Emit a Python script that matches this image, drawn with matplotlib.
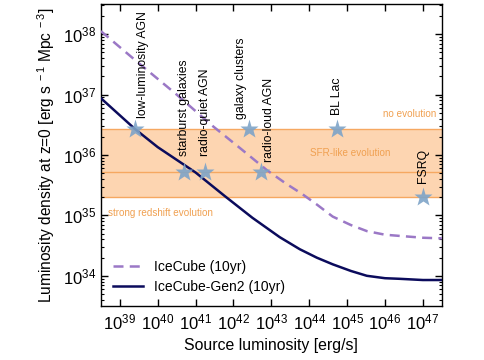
"""Luminosity density vs source luminosity."""

import matplotlib
matplotlib.use("Agg")
import matplotlib.pyplot as plt
import numpy as np

plt.rcParams["font.family"] = ["Liberation Sans", "DejaVu Sans"]
plt.rcParams["mathtext.fontset"] = "custom"
plt.rcParams["mathtext.rm"] = "Liberation Sans"
plt.rcParams["mathtext.it"] = "Liberation Sans:italic"

# curves (log10 values)
icecube_logL = [38.5, 39.5, 40.5, 41.43, 42.2, 42.88, 43.4, 43.8, 44.2, 44.62,
                45.1, 45.52, 46.0, 46.39, 47.0, 47.5]
icecube_logn = [38.05, 37.52, 37.0, 36.49, 36.10, 35.75, 35.52, 35.36, 35.18, 34.98,
                34.84, 34.74, 34.68, 34.66, 34.63, 34.62]
gen2_logL = [38.5, 39.4, 40.0, 41.0, 41.77, 42.5, 43.22, 43.75, 44.2, 44.62,
             45.1, 45.52, 46.0, 46.39, 47.0, 47.5]
gen2_logn = [36.94, 36.43, 36.13, 35.71, 35.32, 34.96, 34.64, 34.44, 34.30, 34.19,
             34.08, 34.00, 33.96, 33.95, 33.93, 33.93]

# evolution band
band_low = 2.0e35
band_mid = 5.3e35
band_high = 2.7e36

# source classes
sources = ["low-luminosity AGN", "starburst galaxies", "radio-quiet AGN",
           "galaxy clusters", "radio-loud AGN", "BL Lac", "FSRQ"]
source_logL = [39.4, 40.7, 41.24, 42.42, 42.72, 44.74, 47.0]
source_density = [band_high, band_mid, band_mid, band_high, band_mid, band_high, band_low]
label_offsets = [(6, 8), (0, 11), (0, 11), (-6, 7), (6, 7), (0, 10), (0, 10)]

fig = plt.figure(figsize=(4.85, 3.6), dpi=100)
ax = fig.add_axes([0.208, 0.15, 0.703, 0.839])

band_color = "#fdd5b1"
band_line = "#f6a861"
band_text = "#f0a050"
ax.axhspan(band_low, band_high, color=band_color, lw=0, zorder=0)
for v in (band_low, band_mid, band_high):
    ax.axhline(v, color=band_line, lw=1.0, zorder=1)

xs1 = 10 ** np.array(icecube_logL)
ys1 = 10 ** np.array(icecube_logn)
xs2 = 10 ** np.array(gen2_logL)
ys2 = 10 ** np.array(gen2_logn)
ax.plot(xs1, ys1, ls=(0, (4, 2.5)), color="#9b78c6", lw=1.8, label="IceCube (10yr)", zorder=3)
ax.plot(xs2, ys2, color="#0b0b5c", lw=1.8, label="IceCube-Gen2 (10yr)", zorder=3)

sx = 10 ** np.array(source_logL)
ax.plot(sx, source_density, ls="none", marker="*", ms=14, color="#7ea4c8",
        alpha=0.9, mec="none", zorder=4)
for name, x, y, off in zip(sources, sx, source_density, label_offsets):
    ax.annotate(name, (x, y), xytext=off, textcoords="offset points",
                rotation=90, ha="center", va="bottom", fontsize=8.8, zorder=5)

ax.text(0.985, 0.62, "no evolution", transform=ax.transAxes, ha="right",
        va="bottom", fontsize=7.1, color=band_text)
ax.text(0.73, 0.49, "SFR-like evolution", transform=ax.transAxes, ha="center",
        va="bottom", fontsize=7.1, color=band_text)
ax.text(0.02, 0.325, "strong redshift evolution", transform=ax.transAxes, ha="left",
        va="top", fontsize=7.1, color=band_text)

ax.set_xscale("log")
ax.set_yscale("log")
ax.set_xlim(10 ** 38.5, 10 ** 47.5)
ax.set_ylim(10 ** 33.5, 10 ** 38.5)
ax.set_xticks([10.0 ** k for k in range(39, 48)])
ax.xaxis.set_minor_locator(matplotlib.ticker.NullLocator())
ax.tick_params(which="both", direction="in", top=True, right=True, labelsize=12)
ax.tick_params(axis="x", pad=5)
ax.tick_params(which="major", length=5, width=1)
ax.tick_params(which="minor", length=2.5, width=0.8)
for s in ax.spines.values():
    s.set_linewidth(1.0)

ax.set_xlabel("Source luminosity [erg/s]", fontsize=11.4)
ax.set_ylabel(r"Luminosity density at z=0 [erg s$^{\ -1}$ Mpc$^{\ -3}$]", fontsize=11.2)

ax.legend(loc="lower left", frameon=False, fontsize=10, handlelength=2.1,
          bbox_to_anchor=(0.0, 0.0), labelspacing=0.4)

fig.savefig("out.png", dpi=100)
